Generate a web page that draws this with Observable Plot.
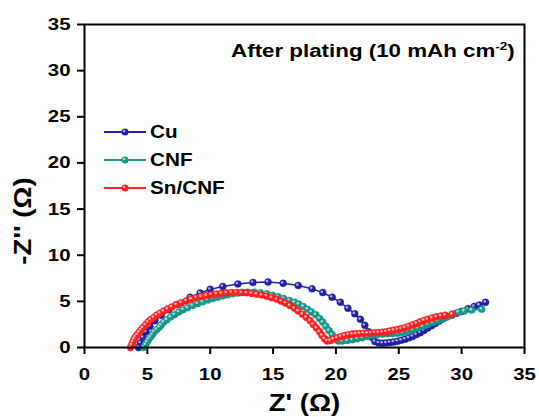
<!DOCTYPE html>
<html>
<head>
<meta charset="utf-8">
<script src="https://cdn.jsdelivr.net/npm/d3@7"></script>
<script src="https://cdn.jsdelivr.net/npm/@observablehq/plot@0.6"></script>
<style>
  html, body { margin: 0; padding: 0; background: #fff; }
  #wrap { position: relative; width: 539px; height: 417px; font-family: "Liberation Sans", Arial, sans-serif; font-weight: bold; }
  .ov { position: absolute; font-size: 18px; line-height: 18px; white-space: nowrap; color: #000; }
</style>
</head>
<body>
<div id="wrap"></div>
<script>
// ---- Data ----
const seriesNames = ["Cu", "CNF", "Sn/CNF"];
const seriesColors = ["#1e1ea6", "#1a9688", "#ff2020"];

const cuX = [4.3,4.45,4.65,4.9,5.2,5.6,6.1,6.7,7.4,8.4,9.2,10.0,11.0,12.2,13.4,14.6,15.8,17.0,18.1,18.95,19.7,20.35,20.95,21.5,21.95,22.3,22.6,22.85,23.1,23.4,23.7,24.0,24.3,24.6,24.9,25.2,25.5,25.8,26.1,26.4,26.7,27.0,27.3,27.6,27.9,28.2,28.5,28.8,29.2,29.6,30.0,30.5,31.0,31.4,31.9];
const cuY = [0.0,0.5,1.1,1.7,2.3,2.9,3.5,4.1,4.65,5.45,5.9,6.3,6.62,6.88,7.05,7.1,6.95,6.72,6.36,5.95,5.45,4.9,4.25,3.65,3.05,2.4,1.7,1.1,0.65,0.5,0.47,0.5,0.55,0.6,0.68,0.78,0.9,1.05,1.2,1.4,1.6,1.85,2.1,2.35,2.6,2.85,3.1,3.3,3.5,3.7,3.9,4.2,4.45,4.6,4.9];

const cnfX = [4.72,4.85,4.98,5.1,5.25,5.4,5.55,5.75,5.95,6.1,6.3,6.55,6.85,7.15,7.5,7.85,8.2,8.6,9.0,9.4,9.8,10.2,10.6,11.0,11.4,11.8,12.2,12.6,13.0,13.5,14.0,14.5,14.95,15.4,15.85,16.3,16.7,17.05,17.4,17.75,18.05,18.4,18.7,18.95,19.2,19.45,19.7,19.95,20.2,20.5,20.9,21.3,21.7,22.1,22.5,22.9,23.3,23.7,24.1,24.5,24.9,25.3,25.7,26.1,26.5,26.9,27.3,27.7,28.1,28.5,28.9,29.3,29.75,30.2,30.8,31.6];
const cnfY = [0.0,0.3,0.6,0.9,1.15,1.4,1.7,1.95,2.2,2.45,2.75,3.0,3.3,3.55,3.85,4.1,4.3,4.55,4.75,4.95,5.15,5.3,5.45,5.6,5.72,5.82,5.9,5.96,6.0,6.0,5.93,5.82,5.65,5.5,5.3,5.1,4.9,4.7,4.45,4.15,3.85,3.55,3.15,2.75,2.3,1.85,1.4,0.95,0.7,0.7,0.77,0.85,0.95,1.07,1.18,1.3,1.4,1.45,1.48,1.5,1.55,1.62,1.75,1.9,2.1,2.3,2.5,2.7,2.9,3.1,3.35,3.6,3.82,3.95,4.05,4.15];

const snX = [3.66,3.75,3.85,3.95,4.05,4.2,4.35,4.5,4.65,4.85,5.05,5.25,5.5,5.75,6.0,6.3,6.6,6.95,7.3,7.7,8.1,8.5,8.9,9.3,9.7,10.1,10.5,10.9,11.3,11.7,12.1,12.5,12.9,13.3,13.7,14.1,14.5,14.9,15.3,15.65,16.0,16.35,16.7,17.0,17.35,17.65,17.95,18.2,18.45,18.7,18.9,19.1,19.3,19.55,19.8,20.1,20.4,20.7,21.0,21.3,21.6,21.9,22.2,22.5,22.8,23.1,23.4,23.7,24.0,24.3,24.6,24.9,25.2,25.5,25.8,26.1,26.4,26.7,27.0,27.3,27.65,28.0,28.35,28.7,29.25];
const snY = [0.0,0.3,0.6,0.9,1.15,1.4,1.65,1.9,2.15,2.45,2.75,3.0,3.25,3.5,3.72,3.95,4.17,4.4,4.65,4.85,5.05,5.25,5.4,5.52,5.63,5.72,5.8,5.87,5.92,5.96,5.97,5.95,5.92,5.86,5.78,5.68,5.56,5.4,5.22,5.02,4.8,4.55,4.25,3.95,3.6,3.25,2.9,2.5,2.1,1.7,1.3,0.95,0.7,0.75,0.9,1.05,1.2,1.3,1.38,1.45,1.5,1.53,1.55,1.56,1.58,1.6,1.62,1.66,1.72,1.8,1.88,1.96,2.05,2.15,2.3,2.45,2.6,2.78,2.93,3.05,3.2,3.32,3.42,3.5,3.6];

const xTicks = [0,5,10,15,20,25,30,35];
const yTicks = [0,5,10,15,20,25,30,35];
const xTitle = "Z' (\u03A9)";
const yTitle = "-Z'' (\u03A9)";
const note = "After plating (10 mAh cm";
const noteSup = "-2";

// ---- Build table ----
const allX = [cuX, cnfX, snX], allY = [cuY, cnfY, snY];
const data = [];
allX.forEach((xs, s) => xs.forEach((x, i) => data.push({series: seriesNames[s], x, y: allY[s][i]})));

const marks = [];
seriesNames.forEach((name, s) => {
  const d = data.filter(r => r.series === name);
  marks.push(Plot.line(d, {x: "x", y: "y", stroke: seriesColors[s], strokeWidth: 1.5}));
  marks.push(Plot.dot(d, {x: "x", y: "y", r: 3.5, fill: seriesColors[s], stroke: seriesColors[s], strokeWidth: 0.4}));
  marks.push(Plot.dot(d, {x: "x", y: "y", r: 1.3, fill: "white", fillOpacity: 0.65, dx: -0.9, dy: -0.9}));
});

const chart = Plot.plot({
  width: 539,
  height: 417,
  marginLeft: 84,
  marginRight: 15,
  marginTop: 24,
  marginBottom: 70,
  style: {fontFamily: "'Liberation Sans', Arial, sans-serif", fontWeight: "bold", background: "white", color: "black"},
  x: {domain: [0, 35], ticks: xTicks},
  y: {domain: [0, 35], ticks: yTicks},
  marks: [
    Plot.axisX({ticks: xTicks, tickSize: 7, tickPadding: 13, fontSize: 17, fontWeight: "bold", strokeWidth: 2, label: null, tickFormat: d => String(d)}),
    Plot.axisY({ticks: yTicks, tickSize: 7, tickPadding: 7, fontSize: 17, fontWeight: "bold", strokeWidth: 2, label: null, tickFormat: d => String(d)}),
    ...marks,
    Plot.frame({stroke: "black", strokeWidth: 2}),
    Plot.text([xTitle], {frameAnchor: "bottom", lineAnchor: "middle", textAnchor: "middle", dy: 56, fontSize: 23, fontWeight: "bold", fill: "black"}),
    Plot.text([yTitle], {frameAnchor: "left", lineAnchor: "middle", textAnchor: "middle", rotate: -90, dx: -61, dy: 35, fontSize: 23, fontWeight: "bold", fill: "black"})
  ]
});

// widen all SVG text horizontally like the reference typeface
chart.querySelectorAll("text").forEach(t => {
  const x = +t.getAttribute("x") || 0, y = +t.getAttribute("y") || 0;
  const tr = t.getAttribute("transform") || "";
  t.setAttribute("transform", `${tr} translate(${x},${y}) scale(1.2,1) translate(${-x},${-y})`);
});

const wrap = document.getElementById("wrap");
wrap.appendChild(chart);

// annotation (with superscript)
const ann = document.createElement("div");
ann.className = "ov";
ann.style.right = "24px";
ann.style.top = "42px";
ann.style.transform = "scaleX(1.24)";
ann.style.transformOrigin = "right center";
ann.innerHTML = note + '<span style="font-size:11px;position:relative;top:-7px">' + noteSup + '</span>)';
wrap.appendChild(ann);

// legend
const legendTops = [122.5, 151, 178.5];
seriesNames.forEach((name, s) => {
  const top = legendTops[s];
  const sw = document.createElementNS("http://www.w3.org/2000/svg", "svg");
  sw.setAttribute("width", 46); sw.setAttribute("height", 12);
  sw.style.position = "absolute"; sw.style.left = "102px"; sw.style.top = (top + 9 - 6) + "px";
  sw.innerHTML = `<line x1="2" x2="44" y1="6" y2="6" stroke="${seriesColors[s]}" stroke-width="2"/>` +
    `<circle cx="23" cy="6" r="3.5" fill="${seriesColors[s]}"/>` +
    `<circle cx="22.1" cy="5.1" r="1.3" fill="white" fill-opacity="0.65"/>`;
  wrap.appendChild(sw);
  const lab = document.createElement("div");
  lab.className = "ov";
  lab.style.left = "150px";
  lab.style.top = top + "px";
  lab.style.transform = "scaleX(1.15)";
  lab.style.transformOrigin = "left center";
  lab.textContent = name;
  wrap.appendChild(lab);
});
</script>
</body>
</html>
